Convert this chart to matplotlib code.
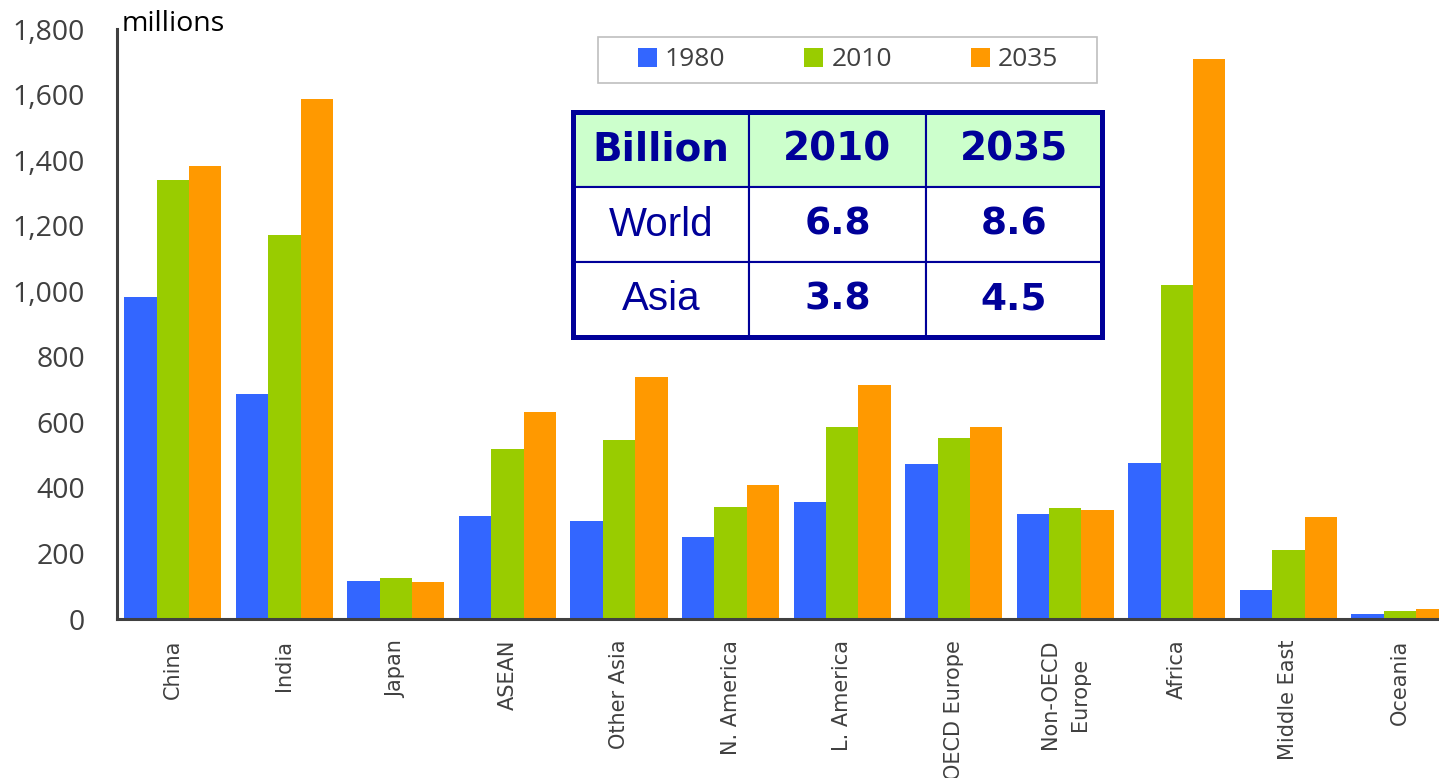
import numpy as np
import matplotlib
matplotlib.use('Agg')
import matplotlib.pyplot as plt
from matplotlib.patches import Rectangle

# population by region, millions
regions = ['China', 'India', 'Japan', 'ASEAN', 'Other Asia', 'N. America',
           'L. America', 'OECD Europe', 'Non-OECD\nEurope', 'Africa',
           'Middle East', 'Oceania']
pop_1980 = [983, 687, 117, 315, 300, 250, 357, 472, 319, 475, 90, 15]
pop_2010 = [1340, 1172, 125, 520, 545, 343, 587, 552, 338, 1020, 210, 24]
pop_2035 = [1383, 1585, 112, 632, 737, 410, 714, 586, 332, 1710, 311, 30]
years = ['1980', '2010', '2035']
colors = ['#3366FF', '#99CC00', '#FF9900']

# inset table, billions
table_head = ['Billion', '2010', '2035']
table_rows = ['World', 'Asia']
table_2010 = ['6.8', '3.8']
table_2035 = ['8.6', '4.5']

W, H = 1439, 778
fig = plt.figure(figsize=(W / 100, H / 100), dpi=100)
ax = fig.add_axes([117 / W, 1 - 619 / H, 1 - 117 / W, (619 - 29) / H])

x = np.arange(len(regions))
w = 0.29
for i, (vals, yr, c) in enumerate(zip([pop_1980, pop_2010, pop_2035], years, colors)):
    ax.bar(x + (i - 1) * w, vals, w, color=c, label=yr)

ax.set_xlim(-0.5, 11.35)
ax.set_ylim(0, 1800)
yt = list(range(0, 1801, 200))
ax.set_yticks(yt)
ax.set_yticklabels([f'{v:,}' for v in yt], fontsize=20.5, family='Open Sans', color='#404040')
ax.tick_params(axis='y', length=0, pad=23)
ax.set_xticks(x)
ax.set_xticklabels(regions, rotation=90, fontsize=15, color='#404040', linespacing=1.6)
ax.tick_params(axis='x', length=0, pad=15)
for s in ['top', 'right']:
    ax.spines[s].set_visible(False)
for s in ['left', 'bottom']:
    ax.spines[s].set_linewidth(2.2)
    ax.spines[s].set_color('#404040')

fig.text(122 / W, 1 - 31 / H, 'millions', fontsize=20.5, family='Open Sans', va='baseline')

# legend with its own box
fig.add_artist(Rectangle((598 / W, 1 - 83 / H), 499 / W, 46 / H, transform=fig.transFigure,
                         fill=False, edgecolor='#BFBFBF', lw=1.2))
ax.legend(loc='center', bbox_to_anchor=(848 / W, 1 - 60 / H), bbox_transform=fig.transFigure,
          ncol=3, frameon=False, prop={'family': 'Open Sans', 'size': 19},
          handlelength=0.72, handleheight=0.72, handletextpad=0.3, columnspacing=3.0,
          labelcolor='#404040')

# table
tax = fig.add_axes([573 / W, 1 - 337 / H, 529 / W, 225 / H])
tax.axis('off')
cell_text = [table_head] + [[r, a, b] for r, a, b in zip(table_rows, table_2010, table_2035)]
tbl = tax.table(cellText=cell_text, bbox=[0, 0, 1, 1], cellLoc='center')
tbl.auto_set_font_size(False)
for (r, c), cell in tbl.get_celld().items():
    cell.set_edgecolor('#000099')
    cell.set_linewidth(1.5)
    t = cell.get_text()
    t.set_color('#000099')
    if r == 0:
        cell.set_facecolor('#CCFFCC')
        t.set_fontweight('bold')
        t.set_fontsize(28)
        t.set_family('DejaVu Sans')
    elif c == 0:
        t.set_fontsize(29)
        t.set_family('Liberation Sans')
    else:
        t.set_fontweight('bold')
        t.set_fontsize(27)
        t.set_family('DejaVu Sans')
tax.add_patch(Rectangle((0, 0), 1, 1, transform=tax.transAxes, fill=False,
                        edgecolor='#000099', lw=3.6, clip_on=False, zorder=5))

fig.savefig('out.png', dpi=100)
